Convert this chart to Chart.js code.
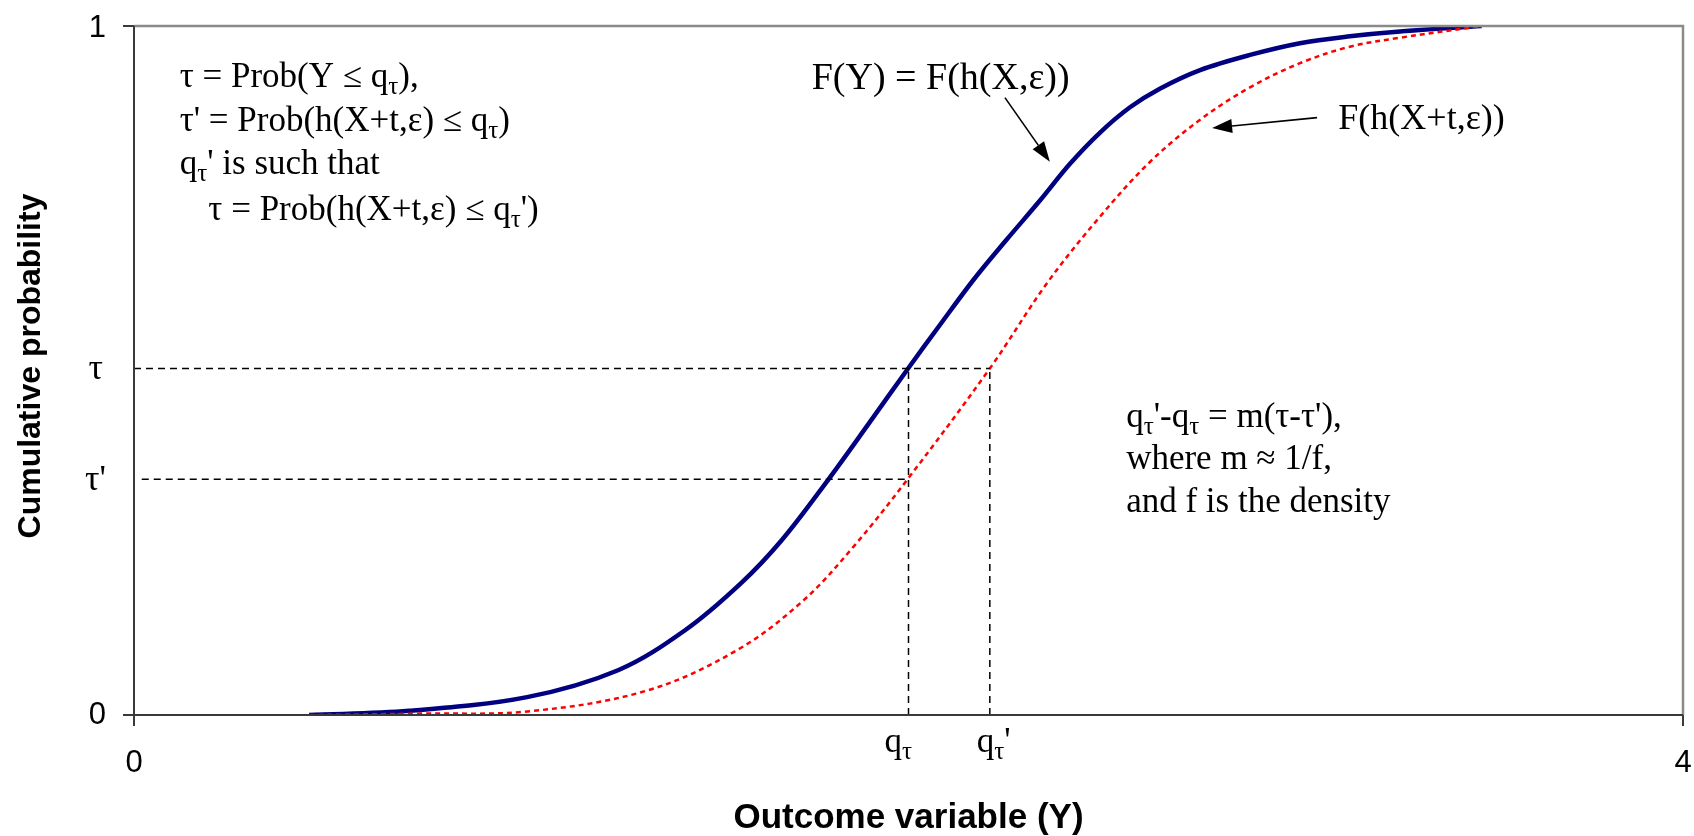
<!DOCTYPE html>
<html lang="en">
<head>
    <meta charset="UTF-8">
    <title>Cumulative probability vs outcome variable</title>
    <script src="https://cdn.jsdelivr.net/npm/chart.js"></script>
    <style>
        html, body { margin: 0; padding: 0; background: #ffffff; }
        #wrap { width: 1694px; height: 836px; }
    </style>
</head>
<body>
<div id="wrap"><canvas id="cdfChart" width="1694" height="836"></canvas></div>
<script>
    // Values
    const blueX = [0.452, 0.710, 1.015, 1.250, 1.423, 1.567, 1.673, 1.792, 1.895, 1.999, 2.081, 2.167, 2.252, 2.340,
        2.417, 2.494, 2.572, 2.649, 2.753, 2.882, 3.011, 3.140, 3.269, 3.480];
    const blueY = [0.000, 0.006, 0.026, 0.065, 0.123, 0.191, 0.254, 0.341, 0.421, 0.503, 0.566, 0.631, 0.689, 0.747,
        0.800, 0.845, 0.882, 0.909, 0.936, 0.958, 0.975, 0.985, 0.992, 1.000];

    const redX = [0.452, 0.739, 1.015, 1.322, 1.557, 1.730, 1.862, 1.996, 2.210, 2.358, 2.494, 2.624, 2.753, 2.882, 3.011, 3.140, 3.269, 3.480];
    const redY = [0.000, 0.002, 0.005, 0.035, 0.094, 0.167, 0.247, 0.341, 0.503, 0.627, 0.723, 0.803, 0.864, 0.911, 0.946, 0.970, 0.983, 1.000];

    const tau = 0.503;
    const tauPrime = 0.342;
    const q = 2.00;
    const qPrime = 2.21;

    const xMin = 0, xMax = 4;
    const yMin = 0, yMax = 1;

    const toPoints = (xs, ys) => xs.map((x, i) => ({x: x, y: ys[i]}));

    const SERIF = '"Liberation Serif", "DejaVu Serif", serif';
    const SANS = '"Liberation Sans", Arial, sans-serif';

    // draws text pieces, some of them as subscripts
    function drawRich(ctx, parts, x, y, size) {
        let cx = x;
        parts.forEach(p => {
            const s = p.sub ? Math.round(size * 0.7) : size;
            ctx.font = s + 'px ' + SERIF;
            ctx.textAlign = 'left';
            ctx.textBaseline = 'alphabetic';
            ctx.fillText(p.t, cx, p.sub ? y + size * 0.2 : y);
            cx += ctx.measureText(p.t).width;
        });
    }

    function arrow(ctx, x1, y1, x2, y2) {
        const ang = Math.atan2(y2 - y1, x2 - x1);
        const len = 20, half = 7;
        const bx = x2 - len * Math.cos(ang), by = y2 - len * Math.sin(ang);
        ctx.strokeStyle = '#000';
        ctx.lineWidth = 1.6;
        ctx.beginPath();
        ctx.moveTo(x1, y1);
        ctx.lineTo(bx, by);
        ctx.stroke();
        ctx.fillStyle = '#000';
        ctx.beginPath();
        ctx.moveTo(x2, y2);
        ctx.lineTo(bx + half * Math.sin(ang), by - half * Math.cos(ang));
        ctx.lineTo(bx - half * Math.sin(ang), by + half * Math.cos(ang));
        ctx.closePath();
        ctx.fill();
    }

    const sub = t => ({t: t, sub: true});
    const txt = t => ({t: t});

    // text blocks, anchored in data units
    const notes = [
        {x: 0.118, y: 0.911, size: 35, parts: [txt('\u03c4 = Prob(Y \u2264 q'), sub('\u03c4'), txt('),')]},
        {x: 0.118, y: 0.848, size: 35, parts: [txt('\u03c4\' = Prob(h(X+t,\u03b5) \u2264 q'), sub('\u03c4'), txt(')')]},
        {x: 0.118, y: 0.785, size: 35, parts: [txt('q'), sub('\u03c4'), txt('\' is such that')]},
        {x: 0.192, y: 0.719, size: 35, parts: [txt('\u03c4 = Prob(h(X+t,\u03b5) \u2264 q'), sub('\u03c4'), txt('\')')]},
        {x: 1.750, y: 0.908, size: 38, parts: [txt('F(Y) = F(h(X,\u03b5))')]},
        {x: 3.110, y: 0.851, size: 36, parts: [txt('F(h(X+t,\u03b5))')]},
        {x: 2.562, y: 0.418, size: 35, parts: [txt('q'), sub('\u03c4'), txt('\'-q'), sub('\u03c4'), txt(' = m(\u03c4-\u03c4\'),')]},
        {x: 2.562, y: 0.357, size: 35, parts: [txt('where m \u2248 1/f,')]},
        {x: 2.562, y: 0.295, size: 35, parts: [txt('and f is the density')]}
    ];
    const arrows = [
        {x1: 2.249, y1: 0.896, x2: 2.365, y2: 0.803},
        {x1: 3.055, y1: 0.867, x2: 2.784, y2: 0.852}
    ];

    const decorPlugin = {
        id: 'decor',
        afterDraw(chart) {
            const ctx = chart.ctx;
            const xs = chart.scales.x, ys = chart.scales.y;
            const a = chart.chartArea;
            ctx.save();

            // top and right frame
            ctx.strokeStyle = '#8a8a8a';
            ctx.lineWidth = 2.5;
            ctx.beginPath();
            ctx.moveTo(a.left, a.top);
            ctx.lineTo(a.right, a.top);
            ctx.lineTo(a.right, a.bottom);
            ctx.stroke();

            // left and bottom axes
            ctx.strokeStyle = '#3a3a3a';
            ctx.lineWidth = 2;
            ctx.beginPath();
            ctx.moveTo(a.left, a.top);
            ctx.lineTo(a.left, a.bottom);
            ctx.lineTo(a.right, a.bottom);
            ctx.stroke();

            // tick marks at the ends
            ctx.beginPath();
            [yMin, yMax].forEach(v => {
                const py = ys.getPixelForValue(v);
                ctx.moveTo(a.left - 11, py);
                ctx.lineTo(a.left, py);
            });
            [xMin, xMax].forEach(v => {
                const px = xs.getPixelForValue(v);
                ctx.moveTo(px, a.bottom);
                ctx.lineTo(px, a.bottom + 11);
            });
            ctx.stroke();

            // tick labels
            ctx.fillStyle = '#000';
            ctx.font = '31px ' + SANS;
            ctx.textAlign = 'right';
            ctx.textBaseline = 'middle';
            ctx.fillText('0', 106, ys.getPixelForValue(yMin));
            ctx.fillText('1', 106, ys.getPixelForValue(yMax) + 2);
            ctx.textAlign = 'center';
            ctx.fillText('0', xs.getPixelForValue(xMin), a.bottom + 48);
            ctx.fillText('4', xs.getPixelForValue(xMax), a.bottom + 48);

            ctx.font = '36px ' + SERIF;
            ctx.textAlign = 'right';
            ctx.textBaseline = 'alphabetic';
            ctx.fillText('\u03c4', 103, ys.getPixelForValue(tau) + 11);
            ctx.fillText('\u03c4\'', 106, ys.getPixelForValue(tauPrime) + 11);

            drawRich(ctx, [txt('q'), sub('\u03c4')], xs.getPixelForValue(q) - 24, a.bottom + 37, 35);
            drawRich(ctx, [txt('q'), sub('\u03c4'), txt('\'')], xs.getPixelForValue(qPrime) - 13, a.bottom + 37, 35);

            // axis titles
            ctx.textAlign = 'center';
            ctx.textBaseline = 'middle';
            ctx.font = 'bold 35px ' + SANS;
            ctx.fillText('Outcome variable (Y)', (a.left + a.right) / 2, 818);
            ctx.save();
            ctx.font = 'bold 32px ' + SANS;
            ctx.translate(31, 366);
            ctx.rotate(-Math.PI / 2);
            ctx.fillText('Cumulative probability', 0, 0);
            ctx.restore();

            // annotations
            notes.forEach(n => {
                drawRich(ctx, n.parts, xs.getPixelForValue(n.x), ys.getPixelForValue(n.y), n.size);
            });
            arrows.forEach(r => {
                arrow(ctx, xs.getPixelForValue(r.x1), ys.getPixelForValue(r.y1),
                    xs.getPixelForValue(r.x2), ys.getPixelForValue(r.y2));
            });
            ctx.restore();
        }
    };

    const guide = pts => ({
        data: pts,
        showLine: true,
        borderColor: '#000000',
        borderWidth: 1.5,
        borderDash: [7, 5],
        pointRadius: 0,
        tension: 0
    });

    const ctx = document.getElementById('cdfChart').getContext('2d');
    const cdfChart = new Chart(ctx, {
        type: 'scatter',
        data: {
            datasets: [
                guide([{x: xMin, y: tau}, {x: qPrime, y: tau}]),
                guide([{x: 0.02, y: tauPrime}, {x: q, y: tauPrime}]),
                guide([{x: q, y: yMin}, {x: q, y: tau}]),
                guide([{x: qPrime, y: yMin}, {x: qPrime, y: tau}]),
                {
                    label: 'F(h(X+t,\u03b5))',
                    data: toPoints(redX, redY),
                    showLine: true,
                    borderColor: '#ff0000',
                    borderWidth: 2.5,
                    borderDash: [5, 4],
                    pointRadius: 0,
                    tension: 0.35
                },
                {
                    label: 'F(Y) = F(h(X,\u03b5))',
                    data: toPoints(blueX, blueY),
                    showLine: true,
                    borderColor: '#000080',
                    borderWidth: 4.5,
                    pointRadius: 0,
                    tension: 0.35
                }
            ]
        },
        options: {
            responsive: false,
            animation: false,
            layout: {padding: {top: 26, right: 11, left: 0, bottom: 0}},
            plugins: {
                legend: {display: false},
                tooltip: {enabled: false}
            },
            scales: {
                x: {
                    type: 'linear', min: xMin, max: xMax,
                    grid: {display: false, drawTicks: false},
                    border: {display: false},
                    ticks: {display: false},
                    afterFit: s => { s.height = 121; }
                },
                y: {
                    type: 'linear', min: yMin, max: yMax,
                    grid: {display: false, drawTicks: false},
                    border: {display: false},
                    ticks: {display: false},
                    afterFit: s => { s.width = 134; }
                }
            }
        },
        plugins: [decorPlugin]
    });
</script>
</body>
</html>
